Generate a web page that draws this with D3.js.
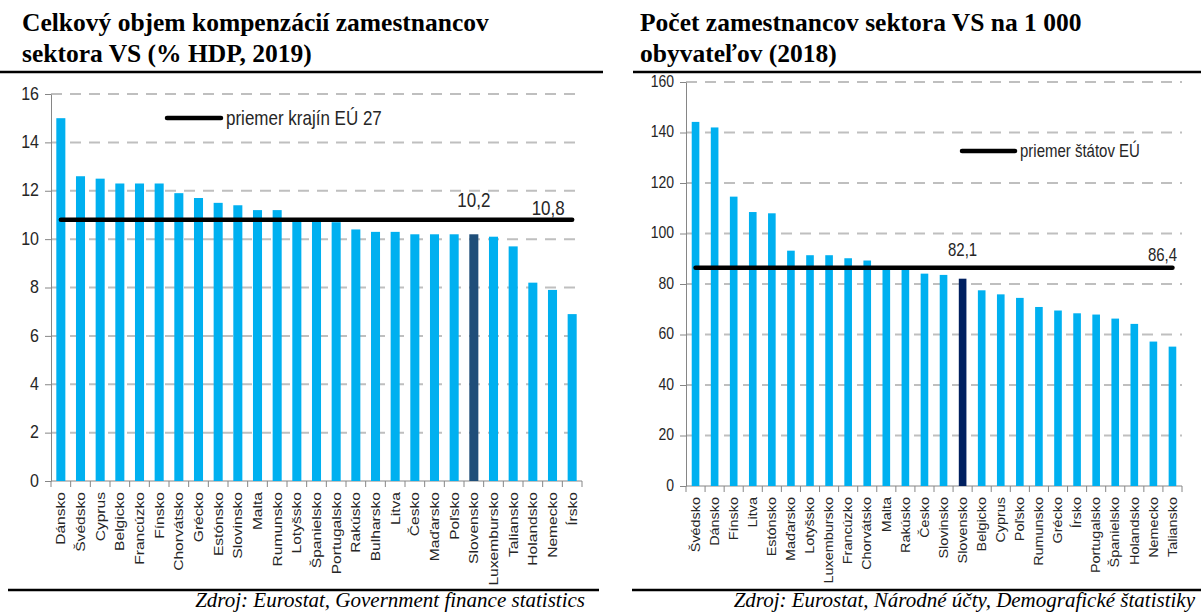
<!DOCTYPE html>
<html>
<head>
<meta charset="utf-8">
<script src="https://cdn.jsdelivr.net/npm/d3@7"></script>
<style>
  body { margin: 0; background: #fff; }
  svg { display: block; }
  .title { font-family: "Liberation Serif", "Times New Roman", serif; font-weight: bold; font-size: 25.5px; fill: #000; }
  .source { font-family: "Liberation Serif", "Times New Roman", serif; font-style: italic; font-size: 21px; text-anchor: end; fill: #000; }
  .chart-text { font-family: "Liberation Sans", Arial, sans-serif; fill: #262626; }
  .grid line { stroke: #bfbfbf; stroke-width: 2; stroke-dasharray: 11 8; }
  .axis path, .axis line { stroke: #868686; }
</style>
</head>
<body>
<svg id="wrapper" width="1201" height="613"></svg>
<script>
// Left panel: compensation of employees, % GDP, 2019
const leftCountries = ["Dánsko", "Švédsko", "Cyprus", "Belgicko", "Francúzko", "Fínsko", "Chorvátsko",
  "Grécko", "Estónsko", "Slovinsko", "Malta", "Rumunsko", "Lotyšsko", "Španielsko", "Portugalsko",
  "Rakúsko", "Bulharsko", "Litva", "Česko", "Maďarsko", "Poľsko", "Slovensko", "Luxembursko",
  "Taliansko", "Holandsko", "Nemecko", "Írsko"];
const leftValues = [15.0, 12.6, 12.5, 12.3, 12.3, 12.3, 11.9, 11.7, 11.5, 11.4, 11.2, 11.2, 10.8, 10.8,
  10.7, 10.4, 10.3, 10.3, 10.2, 10.2, 10.2, 10.2, 10.1, 9.7, 8.2, 7.9, 6.9];
const leftAverage = 10.8;
const leftTicks = [0, 2, 4, 6, 8, 10, 12, 14, 16];

// Right panel: public sector employees per 1 000 inhabitants, 2018
const rightCountries = ["Švédsko", "Dánsko", "Fínsko", "Litva", "Estónsko", "Maďarsko", "Lotyšsko",
  "Luxembursko", "Francúzko", "Chorvátsko", "Malta", "Rakúsko", "Česko", "Slovinsko", "Slovensko",
  "Belgicko", "Cyprus", "Poľsko", "Rumunsko", "Grécko", "Írsko", "Portugalsko", "Španielsko",
  "Holandsko", "Nemecko", "Taliansko"];
const rightValues = [144.2, 142.0, 114.6, 108.5, 108.0, 93.2, 91.4, 91.4, 90.2, 89.3, 86.5, 85.6, 84.1,
  83.6, 82.1, 77.5, 75.9, 74.5, 70.9, 69.5, 68.4, 67.9, 66.3, 64.2, 57.2, 55.2];
const rightAverage = 86.4;
const rightTicks = [0, 20, 40, 60, 80, 100, 120, 140, 160];

const highlightCountry = "Slovensko";
const skFormat = d3.formatLocale({ decimal: ",", thousands: " ", grouping: [3], currency: ["", " €"] }).format(".1f");

const svg = d3.select("#wrapper");

function drawPanel(cfg) {
  const g = svg.append("g");

  // titles and frame rules
  cfg.title.forEach((line, i) => {
    g.append("text").attr("class", "title")
      .attr("x", cfg.titleX).attr("y", 31 + i * 31).text(line);
  });
  g.append("line").attr("x1", cfg.ruleTop[0]).attr("x2", cfg.ruleTop[1])
    .attr("y1", 72).attr("y2", 72).attr("stroke", "#000").attr("stroke-width", 2.5);
  g.append("line").attr("x1", cfg.ruleBottom[0]).attr("x2", cfg.ruleBottom[1])
    .attr("y1", 590).attr("y2", 590).attr("stroke", "#000").attr("stroke-width", 2.5);
  g.append("text").attr("class", "source")
    .attr("x", cfg.sourceX).attr("y", 607).text(cfg.source);

  // scales
  const x = d3.scaleBand()
    .domain(cfg.countries)
    .range(cfg.xRange)
    .paddingInner(cfg.barPadding)
    .paddingOuter(cfg.barPadding / 2);
  const y = d3.scaleLinear().domain(cfg.domain).range(cfg.yRange);
  const K = 1.2; // chart text is drawn a little taller than wide, as in the source

  // gridlines
  g.append("g").attr("class", "grid")
    .selectAll("line")
    .data(cfg.ticks.filter((d) => d > 0))
    .join("line")
    .attr("x1", cfg.xRange[0]).attr("x2", cfg.xRange[1])
    .attr("y1", (d) => y(d)).attr("y2", (d) => y(d));

  // y axis
  const yAxis = g.append("g").attr("class", "axis")
    .attr("transform", `translate(${cfg.xRange[0]},0)`)
    .call(d3.axisLeft(y).tickValues(cfg.ticks).tickSize(6).tickSizeOuter(0).tickPadding(6));
  yAxis.selectAll("text")
    .attr("class", "chart-text")
    .style("font-size", cfg.yFont + "px")
    .attr("transform", `scale(1,${K})`)
    .attr("dy", (0.32 / K) + "em");

  // x axis: baseline with ticks on band boundaries
  const xAxis = g.append("g").attr("class", "axis");
  xAxis.append("line")
    .attr("x1", cfg.xRange[0]).attr("x2", cfg.xRange[1])
    .attr("y1", y(0)).attr("y2", y(0));
  xAxis.selectAll(".bt")
    .data(d3.range(cfg.countries.length + 1))
    .join("line")
    .attr("class", "bt")
    .attr("x1", (i) => cfg.xRange[0] + i * x.step())
    .attr("x2", (i) => cfg.xRange[0] + i * x.step())
    .attr("y1", y(0)).attr("y2", y(0) + 6);
  xAxis.selectAll(".cat")
    .data(cfg.countries)
    .join("text")
    .attr("class", "cat chart-text")
    .attr("text-anchor", "end")
    .attr("dy", "0.35em")
    .style("font-size", cfg.catFont + "px")
    .attr("transform", (d) => `translate(${x(d) + x.bandwidth() / 2},${y(0) + 11}) rotate(-90) scale(${K},1)`)
    .text((d) => d);

  // bars
  g.append("g")
    .selectAll("rect")
    .data(cfg.values)
    .join("rect")
    .attr("x", (d, i) => x(cfg.countries[i]))
    .attr("width", x.bandwidth())
    .attr("y", (d) => y(d))
    .attr("height", (d) => y(0) - y(d))
    .attr("fill", (d, i) => cfg.countries[i] === highlightCountry ? cfg.highlightColor : "#00b0f0");

  // EU average line
  const first = cfg.countries[0];
  const last = cfg.countries[cfg.countries.length - 1];
  g.append("line")
    .attr("x1", x(first) + x.bandwidth() / 2)
    .attr("x2", x(last) + x.bandwidth() / 2)
    .attr("y1", y(cfg.average)).attr("y2", y(cfg.average))
    .attr("stroke", "#000").attr("stroke-width", 4.5).attr("stroke-linecap", "round");

  // value labels
  const skIndex = cfg.countries.indexOf(highlightCountry);
  g.append("text").attr("class", "chart-text")
    .attr("text-anchor", "middle")
    .style("font-size", cfg.labelFont + "px")
    .attr("transform", `translate(${x(highlightCountry) + x.bandwidth() / 2},${y(cfg.average) - cfg.skLabelGap}) scale(1,${K})`)
    .text(skFormat(cfg.values[skIndex]));
  g.append("text").attr("class", "chart-text")
    .attr("text-anchor", "middle")
    .style("font-size", cfg.labelFont + "px")
    .attr("transform", `translate(${x(last) + x.bandwidth() / 2 - cfg.avgLabelShift},${y(cfg.average) - cfg.avgLabelGap}) scale(1,${K})`)
    .text(skFormat(cfg.average));

  // legend
  const legend = g.append("g").attr("transform", `translate(${cfg.legend[0]},${cfg.legend[1]})`);
  legend.append("line")
    .attr("x1", 0).attr("x2", cfg.legendLine)
    .attr("stroke", "#000").attr("stroke-width", 4.5).attr("stroke-linecap", "round");
  legend.append("text").attr("class", "chart-text")
    .style("font-size", cfg.legendFont + "px")
    .attr("transform", `translate(${cfg.legendLine + 5},${cfg.legendFont * 0.36 * K}) scale(1,${K})`)
    .text(cfg.legendText);
}

drawPanel({
  title: ["Celkový objem kompenzácií zamestnancov", "sektora VS (% HDP, 2019)"],
  titleX: 22,
  ruleTop: [0, 603],
  ruleBottom: [8, 599],
  source: "Zdroj: Eurostat, Government finance statistics",
  sourceX: 585,
  countries: leftCountries,
  values: leftValues,
  average: leftAverage,
  ticks: leftTicks,
  domain: [0, 16],
  xRange: [51, 582],
  yRange: [481, 94],
  barPadding: 0.54,
  highlightColor: "#1f4e79",
  yFont: 16,
  catFont: 13,
  labelFont: 17,
  skLabelGap: 13,
  avgLabelGap: 5,
  avgLabelShift: 24,
  legend: [167, 118],
  legendLine: 54,
  legendText: "priemer krajín EÚ 27",
  legendFont: 17,
});

drawPanel({
  title: ["Počet zamestnancov sektora VS na 1 000", "obyvateľov (2018)"],
  titleX: 640,
  ruleTop: [633, 1201],
  ruleBottom: [632, 1201],
  source: "Zdroj: Eurostat, Národné účty, Demografické štatistiky",
  sourceX: 1195,
  countries: rightCountries,
  values: rightValues,
  average: rightAverage,
  ticks: rightTicks,
  domain: [0, 160],
  xRange: [686, 1182],
  yRange: [486, 82],
  barPadding: 0.6,
  highlightColor: "#002060",
  yFont: 14,
  catFont: 12,
  labelFont: 15,
  skLabelGap: 12,
  avgLabelGap: 7,
  avgLabelShift: 10,
  legend: [962, 151],
  legendLine: 53,
  legendText: "priemer štátov EÚ",
  legendFont: 15,
});
</script>
</body>
</html>
